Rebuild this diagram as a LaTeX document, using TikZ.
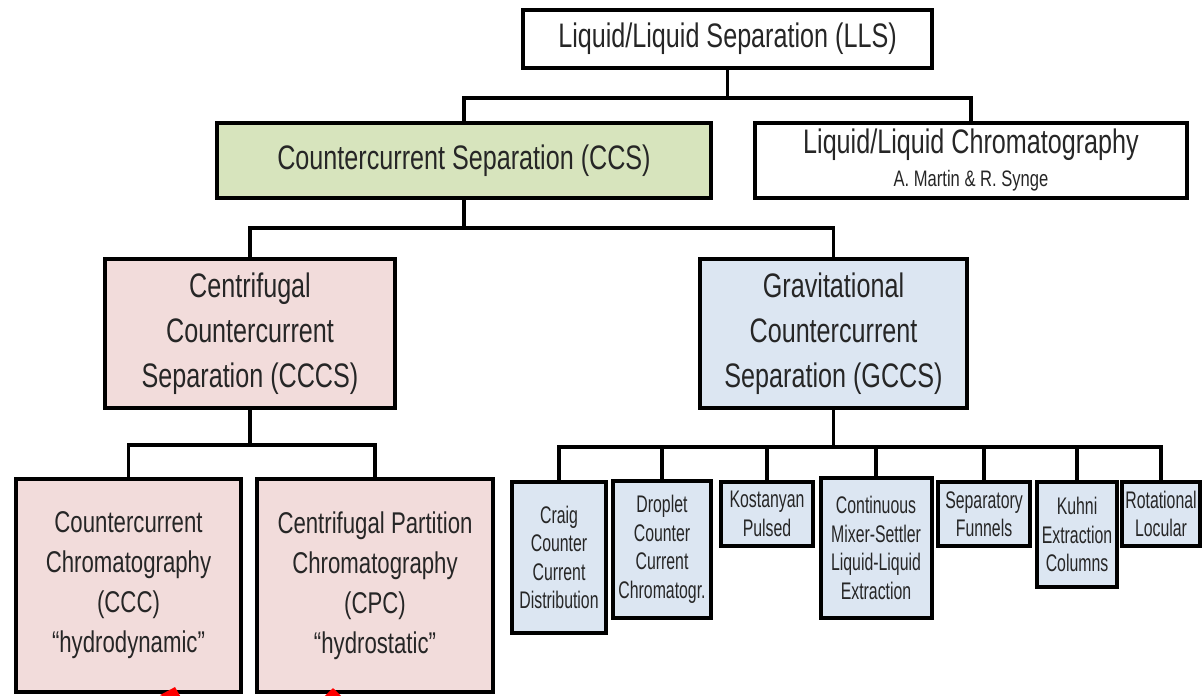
\documentclass[tikz,border=0pt]{standalone}
\usepackage{fontspec}
\setmainfont{Liberation Sans}
\newfontfamily\boxfont[FakeStretch=0.74]{Liberation Sans}
\newfontfamily\leaffont[FakeStretch=0.66]{Liberation Sans}
\usetikzlibrary{arrows.meta,positioning}
\definecolor{ccsgreen}{RGB}{215,228,189}
\definecolor{ccspink}{RGB}{242,220,219}
\definecolor{ccsblue}{RGB}{220,230,242}
\definecolor{ccsred}{RGB}{255,0,0}
\tikzset{
  box/.style={draw, line width=2pt, inner sep=0pt, align=center, text=black!85},
  titlebox/.style={box, font=\boxfont\fontsize{17}{16.5}\selectfont},
  midbox/.style={box, fill=#1, font=\boxfont\fontsize{17}{22.5}\selectfont},
  lowbox/.style={box, fill=ccspink, font=\boxfont\fontsize{15}{20}\selectfont},
  leafbox/.style={box, fill=ccsblue, font=\leaffont\fontsize{12}{14.25}\selectfont},
  link/.style={line width=1.6pt},
  pointer/.style={ccsred, line width=2pt, -{Triangle[length=6pt, width=12pt]}}
}
\begin{document}
\begin{tikzpicture}[x=0.5pt, y=-0.5pt]
  \useasboundingbox (0,0) rectangle (1202,695);

  % Level 1
  \node[titlebox, minimum width=204.5pt, minimum height=29pt] (lls) at (727.5,39) {Liquid/Liquid Separation (LLS)};

  % Level 2
  \node[titlebox, fill=ccsgreen, minimum width=247pt, minimum height=37.5pt] (ccs) at (464,160.5) {Countercurrent Separation (CCS)};
  \node[titlebox, minimum width=216pt, minimum height=37.5pt] (lch) at (971,160.5) {Liquid/Liquid Chromatography\\{\fontsize{11.2}{16.5}\selectfont A. Martin \& R. Synge}};
  \draw[link] (lls.south) -- ++(0,28) -| (ccs.north);
  \draw[link] (lls.south) -- ++(0,28) -| (lch.north);

  % Level 3
  \node[midbox=ccspink, minimum width=145pt, minimum height=74.5pt] (cccs) at (250,333.5) {Centrifugal\\Countercurrent\\Separation (CCCS)};
  \node[midbox=ccsblue, minimum width=133.5pt, minimum height=74.5pt] (gccs) at (833.5,333.5) {Gravitational\\Countercurrent\\Separation (GCCS)};
  \draw[link] (ccs.south) -- ++(0,28) -| (cccs.north);
  \draw[link] (ccs.south) -- ++(0,28) -| (gccs.north);

  % Level 4: centrifugal
  \node[lowbox, minimum width=112.5pt, minimum height=106.5pt] (ccc) at (128.5,585.5) {Countercurrent\\Chromatography\\(CCC)\\“hydrodynamic”};
  \node[lowbox, minimum width=118pt, minimum height=106.5pt] (cpc) at (375,585.5) {Centrifugal Partition\\Chromatography\\(CPC)\\“hydrostatic”};
  \draw[link] (cccs.south) -- ++(0,35) -| (ccc.north);
  \draw[link] (cccs.south) -- ++(0,35) -| (cpc.north);

  % Level 4: gravitational
  \node[leafbox, minimum width=47pt, minimum height=75.5pt] (craig) at (559,557.5) {Craig\\Counter\\Current\\Distribution};
  \node[leafbox, minimum width=49pt, minimum height=68.5pt] (droplet) at (662,549.5) {Droplet\\Counter\\Current\\Chromatogr.};
  \node[leafbox, minimum width=46pt, minimum height=32pt] (kostanyan) at (767,514) {Kostanyan\\Pulsed};
  \node[leafbox, minimum width=55.5pt, minimum height=70pt] (mixer) at (876,548) {Continuous\\Mixer-Settler\\Liquid-Liquid\\Extraction};
  \node[leafbox, minimum width=46pt, minimum height=32pt] (funnels) at (984,514) {Separatory\\Funnels};
  \node[leafbox, minimum width=40pt, minimum height=52.5pt] (kuhni) at (1077,534.5) {Kuhni\\Extraction\\Columns};
  \node[leafbox, minimum width=39pt, minimum height=32pt] (locular) at (1161,514) {Rotational\\Locular};
  \foreach \leaf in {craig,droplet,kostanyan,mixer,funnels,kuhni,locular}
    \draw[link] (gccs.south) -- ++(0,37) -| (\leaf.north);

  % red pointers (cut at the bottom edge)
  \coordinate (tip1) at (175,687);
  \coordinate (tip2) at (333,688);
  \draw[pointer] (160,740) -- (tip1);
  \draw[pointer] (333,740) -- (tip2);
\end{tikzpicture}
\end{document}
